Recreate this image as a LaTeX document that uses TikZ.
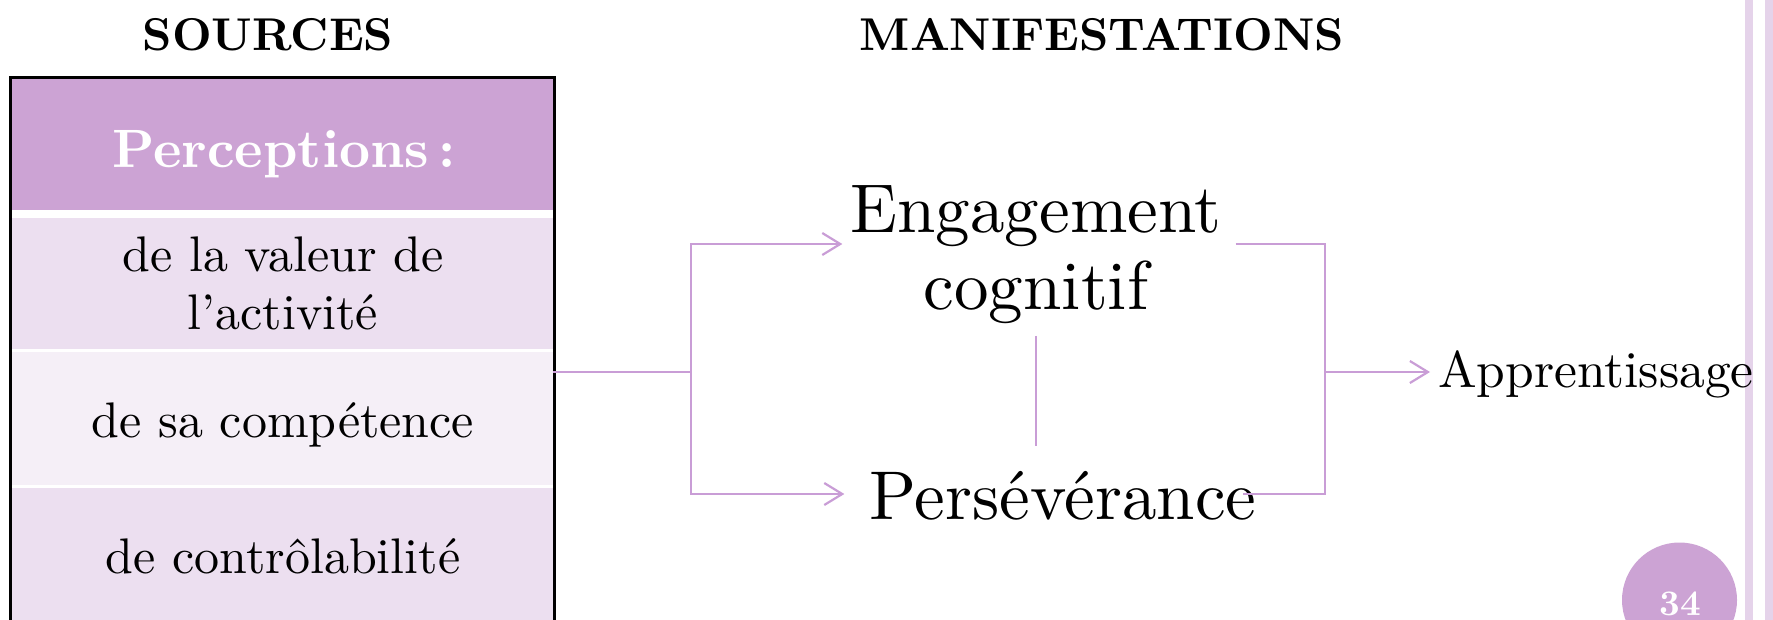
\documentclass[tikz,border=0pt]{standalone}
\usepackage{fontspec}
\setmainfont{lmroman10-regular}[Extension=.otf, BoldFont=lmroman10-bold]
\usetikzlibrary{arrows.meta}
\definecolor{hdrpurple}{RGB}{204,163,212}
\definecolor{rowdark}{RGB}{236,223,240}
\definecolor{rowlight}{RGB}{245,239,247}
\definecolor{linkpurple}{RGB}{201,157,214}
\definecolor{barpurple}{RGB}{229,211,234}
\begin{document}
\begin{tikzpicture}[x=1pt,y=-1pt,
  cellbox/.style={rectangle, inner sep=0pt, outer sep=0pt, minimum width=541pt, anchor=north west},
  celltext/.style={inner sep=0pt, font=\fontsize{50}{58}\selectfont, align=center},
  titletext/.style={inner sep=0pt, anchor=base, font=\bfseries\fontsize{46}{50}\selectfont},
  bigtext/.style={inner sep=0pt, font=\fontsize{69}{77}\selectfont, align=center},
  link/.style={draw=linkpurple, line width=2.2pt},
  linkarrow/.style={link, -{Straight Barb[length=18pt,width=22pt]}},
]
\path[use as bounding box] (0,0) rectangle (1773,619);
\clip (0,0) rectangle (1773,619);

% right decorative bars
\fill[barpurple] (1745,-5) rectangle (1753,625);
\fill[barpurple] (1765,-5) rectangle (1773,625);

% table
\node[cellbox, fill=hdrpurple, minimum height=131pt] (hdr) at (12,79) {};
\node[cellbox, fill=rowdark, minimum height=131pt] (row1) at (12,218) {};
\node[cellbox, fill=rowlight, minimum height=133pt] (row2) at (12,352) {};
\node[cellbox, fill=rowdark, minimum height=140pt] (row3) at (12,488) {};
\draw[line width=3pt] (10.5,640) -- (10.5,77.5) -- (554.5,77.5) -- (554.5,640);

% titles
\node[titletext] (src) at (268,50) {SOURCES};
\node[titletext] (man) at (1102,50) {MANIFESTATIONS};

% table texts
\node[inner sep=0pt, anchor=base, text=white, font=\bfseries\fontsize{54}{60}\selectfont] (perc) at (284,167) {Perceptions\,:};
\node[celltext] (val) at (283,283.7) {de la valeur de\\l’activité};
\node[celltext, anchor=base] (comp) at (283,437) {de sa compétence};
\node[celltext, anchor=base] (ctrl) at (283,573) {de contrôlabilité};

% manifestations
\node[bigtext] (eng) at (1036,254.7) {Engagement\\cognitif};
\node[bigtext, anchor=base] (pers) at (1063,519) {Persévérance};
\node[inner sep=0pt, anchor=base west, font=\fontsize{51.5}{60}\selectfont] (app) at (1438,387) {Apprentissage};

% connectors
\coordinate (lsplit) at (691,372);
\coordinate (ltop) at (691,244);
\coordinate (lbot) at (691,494);
\coordinate (rtop) at (1325,244);
\coordinate (rbot) at (1325,494);
\coordinate (rmid) at (1325,372);

\draw[link] (row2.east |- lsplit) -- (lsplit);
\draw[linkarrow, shorten >=8pt] (lsplit) -- (ltop) -- (ltop -| eng.west);
\draw[linkarrow, shorten >=25pt] (lsplit) -- (lbot) -- (lbot -| pers.west);
\draw[link, shorten <=14pt, shorten >=-14pt] (ltop -| eng.east) -- (rtop) -- (rbot) -- (lbot -| pers.east);
\draw[linkarrow, shorten >=8pt] (rmid) -- (app.west |- rmid);
\draw[link, line width=1.5pt, shorten <=12pt, shorten >=25pt] (eng.south) -- (eng.south |- pers.north);

% page number
\node[circle, fill=hdrpurple, minimum size=115pt, inner sep=0pt] (page) at (1679.5,600) {};
\node[inner sep=0pt, anchor=base, text=white, font=\bfseries\fontsize{36}{40}\selectfont] (pagenum) at (1680,615) {34};
\end{tikzpicture}
\end{document}
